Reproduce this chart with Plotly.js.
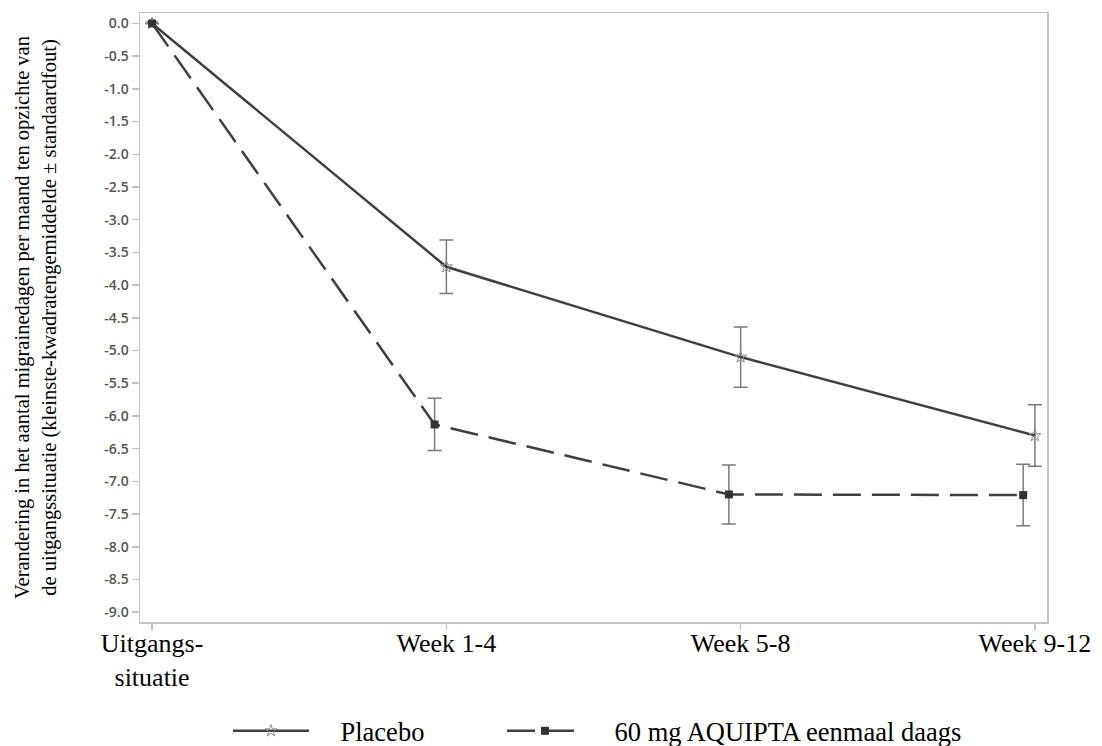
<!DOCTYPE html>
<html>
<head>
<meta charset="utf-8">
<script src="https://cdn.plot.ly/plotly-3.0.1.min.js"></script>
<style>html,body{margin:0;padding:0;background:#fff;}#chart{width:1102px;height:746px;}</style>
</head>
<body>
<div id="chart"></div>
<script>
// ---- data ----
const categories = ['Uitgangs-<br>situatie', 'Week 1-4', 'Week 5-8', 'Week 9-12'];
const placeboMean = [0, -3.72, -5.10, -6.30];
const placeboSE = [null, 0.41, 0.46, 0.47];
const aquiptaMean = [0, -6.13, -7.20, -7.21];
const aquiptaSE = [null, 0.40, 0.45, 0.47];
const seriesNames = ['Placebo', '60 mg AQUIPTA eenmaal daags'];
const yTicks = [0, -0.5, -1, -1.5, -2, -2.5, -3, -3.5, -4, -4.5, -5, -5.5, -6, -6.5, -7, -7.5, -8, -8.5, -9];

// ---- layout helpers ----
const catIndex = categories.map((c, i) => i);
const DODGE = 0.04;
const aquiptaX = catIndex.map(i => (i === 0 ? i : i - DODGE));
const PAD = '\u00a0\u00a0\u00a0\u00a0';

const lineCol = '#3f3f3f';
const errCol = '#7a7a7a';

const traces = [
  {
    x: catIndex, y: placeboMean, name: PAD + seriesNames[0], type: 'scatter', mode: 'lines+markers',
    line: {color: lineCol, width: 2.5},
    marker: {symbol: 'star-open', size: 9, color: '#8a8a8a', line: {width: 1, color: '#8a8a8a'}},
    error_y: {type: 'data', array: placeboSE, visible: true, color: errCol, thickness: 1.5, width: 7},
    legend: 'legend'
  },
  {
    x: aquiptaX, y: aquiptaMean, name: PAD + seriesNames[1], type: 'scatter', mode: 'lines+markers',
    line: {color: lineCol, width: 2.5, dash: '28px,11px'},
    marker: {symbol: 'square', size: 8, color: '#333333'},
    error_y: {type: 'data', array: aquiptaSE, visible: true, color: errCol, thickness: 1.5, width: 7},
    legend: 'legend2'
  }
];

const legendBase = {
  orientation: 'h', xref: 'container', yref: 'container', xanchor: 'left', yanchor: 'middle',
  y: 0.02,
  font: {family: 'serif', size: 26.5, color: '#000'},
  itemwidth: 76,
  bgcolor: 'rgba(0,0,0,0)', borderwidth: 0
};

const layout = {
  width: 1102, height: 746,
  margin: {l: 140, r: 55, t: 13, b: 124},
  paper_bgcolor: '#ffffff', plot_bgcolor: '#ffffff',
  showlegend: true,
  legend: Object.assign({}, legendBase, {x: 228 / 1102}),
  legend2: Object.assign({}, legendBase, {x: 502 / 1102}),
  xaxis: {
    range: [-0.041, 3.041],
    tickmode: 'array', tickvals: catIndex, ticktext: categories,
    ticks: 'outside', ticklen: 6, tickwidth: 1.5, tickcolor: '#c4c4c4',
    ticklabelstandoff: -9,
    tickfont: {family: 'serif', size: 26, color: '#000'},
    showline: true, mirror: true, linecolor: '#c4c4c4', linewidth: 1.5,
    showgrid: false, zeroline: false
  },
  yaxis: {
    range: [-9.15, 0.16],
    tickmode: 'array', tickvals: yTicks, ticktext: yTicks.map(v => v.toFixed(1)),
    ticks: 'outside', ticklen: 7, tickwidth: 1.5, tickcolor: '#c4c4c4',
    tickfont: {family: 'Open Sans', size: 14, color: '#555', weight: 600},
    showline: true, mirror: true, linecolor: '#c4c4c4', linewidth: 1.5,
    showgrid: false, zeroline: false,
    title: {
      text: 'Verandering in het aantal migrainedagen per maand ten opzichte van<br>de uitgangssituatie (kleinste-kwadratengemiddelde ± standaardfout)',
      font: {family: 'serif', size: 20.5, color: '#000'},
      standoff: 42
    }
  }
};

Plotly.newPlot('chart', traces, layout, {displayModeBar: false, staticPlot: true});
</script>
</body>
</html>
